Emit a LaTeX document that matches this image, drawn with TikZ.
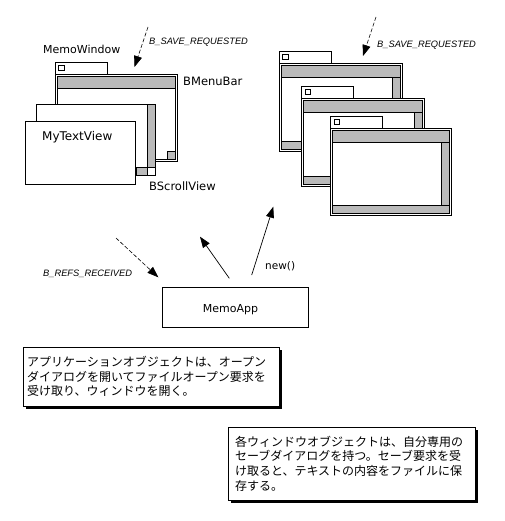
\documentclass[tikz,border=0pt]{standalone}
\usepackage{fontspec}
\setmainfont{DejaVu Sans}
\newfontfamily\jpfont{Noto Sans CJK JP}
\newfontfamily\sigfont{Liberation Sans}
\usetikzlibrary{arrows.meta,shadows}
\tikzset{
  winedge/.style={draw, line width=0.8pt},
  winbox/.style={draw, fill=white, line width=0.8pt},
  stip/.style={draw, fill=black!27, line width=0.8pt},
  lbl/.style={anchor=base west, inner sep=0pt, font=\fontsize{11.5}{13}\selectfont},
  sig/.style={anchor=base west, inner sep=0pt, font=\sigfont\itshape\fontsize{9.3}{11}\selectfont},
  msg/.style={-{Triangle[length=11pt,width=8pt]}, line width=0.6pt, dash pattern=on 4pt off 2pt},
  call/.style={-{Triangle[length=11pt,width=8pt]}, line width=0.7pt},
  note/.style={draw, fill=white, line width=0.8pt, align=left, inner ysep=0pt,
    font=\jpfont\fontsize{12}{14.6}\selectfont,
    drop shadow={shadow xshift=3pt, shadow yshift=-3pt, fill=black, opacity=1}},
  appbox/.style={draw, fill=white, line width=0.8pt, text height=10pt, text depth=0pt,
    font=\fontsize{11}{13}\selectfont}
}
\newcommand\mwtab[2]{%
  \draw[winbox] (#1,{#2-12}) rectangle ({#1+52},#2);
  \draw[winedge] ({#1+3.4},{#2-9}) rectangle ({#1+9},{#2-3.4});
}
\newcommand\mwframe[4]{%
  \draw[winbox] (#1,#2) rectangle (#3,#4);
  \draw[winedge] ({#1+2},{#2+2}) rectangle ({#3-2},{#4-2});
  \draw[stip] ({#1+2},{#2+2}) rectangle ({#3-2},{#2+14});
}
\newcommand\mwbars[4]{%
  \draw[stip] ({#3-10},{#2+14}) rectangle ({#3-2},{#4-2});
  \draw[stip] ({#1+2},{#4-10}) rectangle ({#3-2},{#4-2});
}
\begin{document}
\begin{tikzpicture}[x=1pt,y=-1pt]
\useasboundingbox (0,0) rectangle (504,521);
% ---- left window group
\mwtab{55}{74}
\mwframe{55}{74}{177.7}{161}
\draw[stip] (167.7,151) rectangle (175.7,159);
\draw[winbox] (36,104) rectangle (155,175);
\draw[stip] (147,104) rectangle (155,167);
\draw[stip] (136,167) rectangle (147,175);
\draw[winbox] (147,167) rectangle (155,175);
\draw[winbox] (25,121) rectangle (135.7,184);
\node[lbl, font=\fontsize{12}{14}\selectfont] (mtv) at (42,141) {MyTextView};
\node[lbl, font=\fontsize{11}{13}\selectfont] (mw) at (43,54) {MemoWindow};
\node[lbl] (mb) at (183,86) {BMenuBar};
\node[lbl] (sv) at (149,190) {BScrollView};
% ---- right window group
\mwtab{279.3}{63.3}
\mwframe{279.3}{63.3}{402}{151}
\mwbars{279.3}{63.3}{402}{151}
\mwtab{301.7}{98.3}
\mwframe{301.7}{98.3}{424}{186}
\mwbars{301.7}{98.3}{424}{186}
\mwtab{330.7}{128.3}
\mwframe{330.7}{128.3}{451.7}{215}
\mwbars{330.7}{128.3}{451.7}{215}
% ---- message labels
\node[sig] (s1) at (149,45) {B\_SAVE\_REQUESTED};
\node[sig] (s2) at (377,47.7) {B\_SAVE\_REQUESTED};
\node[sig] (rr) at (43,276.7) {B\_REFS\_RECEIVED};
\node[lbl, font=\fontsize{10.5}{12}\selectfont] (nw) at (265,269.5) {new()};
% ---- application
\node[appbox, minimum width=145.6pt, minimum height=39.6pt] (app) at (235.5,307.5) {\hspace*{-10pt}MemoApp};
% ---- arrows
\coordinate (s1a) at (148,27);
\coordinate (s1b) at (134.5,67);
\coordinate (s2a) at (376,17);
\coordinate (s2b) at (363,56);
\coordinate (rra) at (116,238);
\coordinate (rrb) at (158.3,277.3);
\coordinate (appL) at (229.3,278.3);
\coordinate (lwin) at (200,236.7);
\coordinate (appR) at (251.7,275);
\coordinate (rwin) at (273.3,206.7);
\draw[msg] (s1a) -- (s1b);
\draw[msg] (s2a) -- (s2b);
\draw[msg] (rra) -- (rrb);
\draw[call] (appL) -- (lwin);
\draw[call] (appR) -- (rwin);
% ---- notes
\node[note, minimum width=256pt, minimum height=59pt, text width=248pt, inner xsep=4pt] (n1) at (151,376.5)
  {アプリケーションオブジェクトは、オープン\\ダイアログを開いてファイルオープン要求を\\受け取り、ウィンドウを開く。};
\node[note, minimum width=247pt, minimum height=73pt, text width=233pt, inner xsep=7pt] (n2) at (351.5,463.5)
  {各ウィンドウオブジェクトは、自分専用の\\セーブダイアログを持つ。セーブ要求を受\\け取ると、テキストの内容をファイルに保\\存する。};
\end{tikzpicture}
\end{document}
